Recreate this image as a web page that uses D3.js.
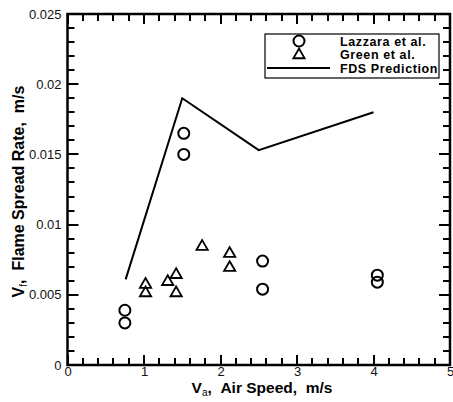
<!DOCTYPE html>
<html>
<head>
<meta charset="utf-8">
<script src="https://cdn.jsdelivr.net/npm/d3@7"></script>
<style>
  html, body { margin: 0; padding: 0; background: #fff; overflow: hidden; }
  svg { display: block; }
</style>
</head>
<body>
<svg id="chart" width="453" height="402"></svg>
<script>
// Lazzara et al. measurements
const lazzaraX = [0.75, 0.75, 1.52, 1.52, 2.55, 2.55, 4.05, 4.05];
const lazzaraY = [0.0039, 0.0030, 0.0165, 0.0150, 0.0074, 0.0054, 0.0064, 0.0059];
// Green et al. measurements
const greenX = [1.02, 1.02, 1.31, 1.42, 1.42, 1.76, 2.12, 2.12];
const greenY = [0.0058, 0.0052, 0.0060, 0.0065, 0.0052, 0.0085, 0.0080, 0.0070];
// FDS prediction
const fdsX = [0.76, 1.50, 2.50, 4.00];
const fdsY = [0.0061, 0.0190, 0.0153, 0.0180];

const xTicks = [0, 1, 2, 3, 4, 5];
const yTicks = [0, 0.005, 0.01, 0.015, 0.02, 0.025];
const yTickLabels = ["0", "0.005", "0.01", "0.015", "0.02", "0.025"];
const legendLabels = ["Lazzara et al.", "Green et al.", "FDS Prediction"];

const svg = d3.select("#chart");
const L = 67.5, R = 450, T = 14, B = 365;
const x = d3.scaleLinear().domain([0, 5]).range([L, R]);
const y = d3.scaleLinear().domain([0, 0.025]).range([B, T]);

const font = "Arial, 'Liberation Sans', sans-serif";

const xMinor = d3.range(0, 26).map(i => i * 0.2);
const yMinor = d3.range(0, 26).map(i => i * 0.001);
const isMajorX = v => Math.abs(v - Math.round(v)) < 1e-6;
const isMajorY = v => Math.abs(v / 0.005 - Math.round(v / 0.005)) < 1e-6;

// inward tick marks on all four sides
const tickData = [];
xMinor.forEach(v => {
  const len = isMajorX(v) ? 10 : 7, px = Math.round(x(v));
  tickData.push([px, B, px, B - len], [px, T, px, T + len]);
});
yMinor.forEach(v => {
  const len = isMajorY(v) ? 11 : 7, py = Math.round(y(v));
  tickData.push([L, py, L + len, py], [R, py, R - len, py]);
});
svg.append("g").selectAll("rect").data(tickData).join("rect")
  .attr("x", d => Math.min(d[0], d[2]) - (d[0] === d[2] ? 1 : 0))
  .attr("y", d => Math.min(d[1], d[3]) - (d[1] === d[3] ? 1 : 0))
  .attr("width", d => d[0] === d[2] ? 2 : Math.abs(d[2] - d[0]))
  .attr("height", d => d[1] === d[3] ? 2 : Math.abs(d[3] - d[1]))
  .attr("fill", "#000");

// tick labels through d3 axes
function styleAxis(g) {
  g.select(".domain").remove();
  g.selectAll(".tick line").remove();
  g.selectAll(".tick text").attr("font-family", font).attr("font-size", 13).attr("fill", "#111");
}
svg.append("g").attr("transform", `translate(0,${B})`)
  .call(d3.axisBottom(x).tickValues(xTicks).tickSize(0).tickPadding(2).tickFormat(d3.format("d")))
  .call(styleAxis);
svg.append("g").attr("transform", `translate(${L},0)`)
  .call(d3.axisLeft(y).tickValues(yTicks).tickSize(0).tickPadding(6)
    .tickFormat((d, i) => yTickLabels[i]))
  .call(styleAxis);

// frame
svg.append("rect").attr("x", L).attr("y", T).attr("width", R - L).attr("height", B - T)
  .attr("fill", "none").attr("stroke", "#000").attr("stroke-width", 2.5);

// axis titles
const xt = svg.append("text").attr("x", 262).attr("y", 393).attr("text-anchor", "middle")
  .attr("font-family", font).attr("font-size", 15.5).attr("font-weight", "bold");
xt.append("tspan").text("V");
xt.append("tspan").attr("font-size", 10).attr("font-weight", "normal").attr("dy", 3).text("a");
xt.append("tspan").attr("dy", -3).text(",\u00a0\u00a0Air Speed,\u00a0\u00a0m/s");

const yt = svg.append("text").attr("transform", `translate(24,${(T + B) / 2 + 2}) rotate(-90)`)
  .attr("text-anchor", "middle")
  .attr("font-family", font).attr("font-size", 16).attr("font-weight", "bold");
yt.append("tspan").text("V");
yt.append("tspan").attr("font-size", 10).attr("font-weight", "normal").attr("dy", 3).text("f");
yt.append("tspan").attr("dy", -3).text(",\u00a0\u00a0Flame Spread Rate,\u00a0\u00a0m/s");

// FDS line
const line = d3.line().x(d => x(d[0])).y(d => y(d[1]));
svg.append("path").datum(fdsX.map((v, i) => [v, fdsY[i]]))
  .attr("d", line).attr("fill", "none").attr("stroke", "#000").attr("stroke-width", 2);

// markers
const circleSym = d3.symbol().type(d3.symbolCircle).size(95);
const triSym = d3.symbol().type(d3.symbolTriangle).size(55);
svg.append("g").selectAll("path").data(lazzaraX.map((v, i) => [v, lazzaraY[i]])).join("path")
  .attr("d", circleSym).attr("transform", d => `translate(${x(d[0])},${y(d[1])})`)
  .attr("fill", "none").attr("stroke", "#000").attr("stroke-width", 2);
svg.append("g").selectAll("path").data(greenX.map((v, i) => [v, greenY[i]])).join("path")
  .attr("d", triSym).attr("transform", d => `translate(${x(d[0])},${y(d[1]) + 1})`)
  .attr("fill", "none").attr("stroke", "#000").attr("stroke-width", 1.8);

// legend
const lg = svg.append("g");
lg.append("rect").attr("x", 265).attr("y", 34).attr("width", 174).attr("height", 44)
  .attr("fill", "#fff").attr("stroke", "#000").attr("stroke-width", 1.2);
lg.append("path").attr("d", circleSym).attr("transform", "translate(299,41)")
  .attr("fill", "none").attr("stroke", "#000").attr("stroke-width", 2);
lg.append("path").attr("d", triSym).attr("transform", "translate(299,55)")
  .attr("fill", "none").attr("stroke", "#000").attr("stroke-width", 1.8);
lg.append("line").attr("x1", 267).attr("x2", 330).attr("y1", 68).attr("y2", 68)
  .attr("stroke", "#000").attr("stroke-width", 2);
lg.selectAll("text.lab").data(legendLabels).join("text").attr("class", "lab")
  .attr("x", 340).attr("y", (d, i) => 45.5 + i * 13.5)
  .attr("font-family", font).attr("font-size", 12.5).attr("font-weight", "bold")
  .attr("letter-spacing", 0.6)
  .text(d => d);
</script>
</body>
</html>
